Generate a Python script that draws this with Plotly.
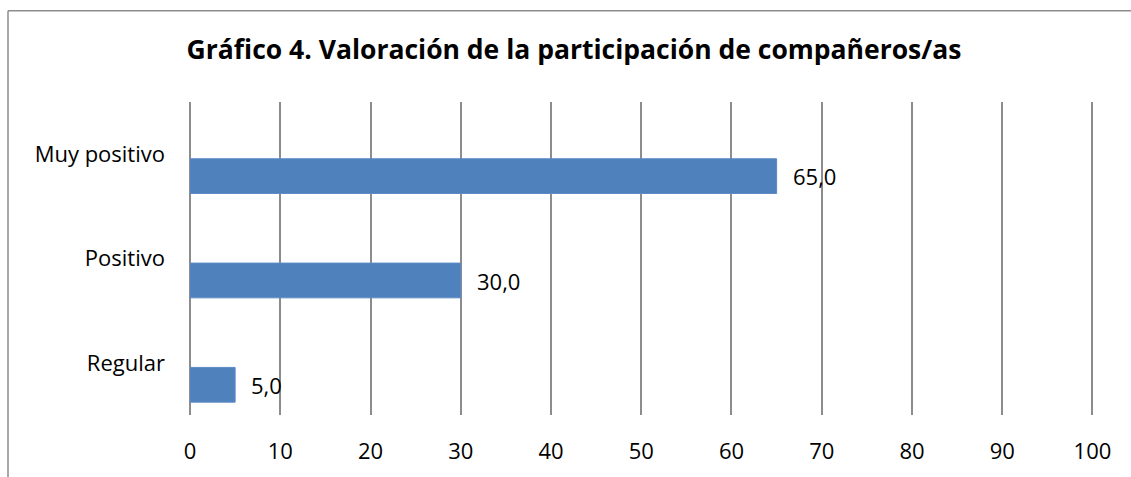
import plotly.graph_objects as go

categories = ["Regular", "Positivo", "Muy positivo"]
values = [5.0, 30.0, 65.0]
x_ticks = [0, 10, 20, 30, 40, 50, 60, 70, 80, 90, 100]
title = "Gráfico 4. Valoración de la participación de compañeros/as"

FONT = "Open Sans"
W, H = 1131, 477
L, R, T, B = 190, 34, 102, 59
pw, ph = W - L - R, H - T - B

fig = go.Figure()
fig.add_trace(go.Bar(
    y=categories, x=values, orientation="h",
    marker=dict(color="#4F81BD", line=dict(color="#5B8AC6", width=1)),
    width=0.333, offset=-0.377,
    hoverinfo="skip",
))

for c, v in zip(categories, values):
    fig.add_annotation(
        x=v, y=c, xref="x", yref="y",
        text=f"{v:.1f}".replace(".", ","),
        showarrow=False, xanchor="left", yanchor="middle",
        xshift=14, yshift=-22,
        font=dict(family=FONT, size=22, color="#000000"),
    )

def px_x(p):
    return (p - L) / pw

def px_y(p):
    return (H - B - p) / ph

fig.add_shape(type="line", xref="paper", yref="paper",
              x0=px_x(8), x1=px_x(8), y0=px_y(10), y1=px_y(490),
              line=dict(color="#8C8C8C", width=1.5))
fig.add_shape(type="line", xref="paper", yref="paper",
              x0=px_x(8), x1=px_x(1140), y0=px_y(10), y1=px_y(10),
              line=dict(color="#8C8C8C", width=1.5))

fig.update_layout(
    width=W, height=H,
    margin=dict(l=L, r=R, t=T, b=B),
    paper_bgcolor="white", plot_bgcolor="white",
    showlegend=False,
    title=dict(text=f"<b>{title}</b>", x=574 / W, xanchor="center",
               y=1 - 50 / H, yanchor="middle",
               font=dict(family=FONT, size=26.5, color="#000000")),
    font=dict(family=FONT, size=22, color="#000000"),
    xaxis=dict(range=[0, 100.5], tickvals=x_ticks, ticktext=[str(t) for t in x_ticks],
               showgrid=True, gridcolor="#8C8C8C", gridwidth=1.6,
               zeroline=True, zerolinecolor="#8C8C8C", zerolinewidth=1.6,
               showline=False, ticks="", ticklabelstandoff=21,
               tickfont=dict(family=FONT, size=22, color="#000000")),
    yaxis=dict(categoryorder="array", categoryarray=categories,
               range=[-0.5, 2.5], showgrid=False, zeroline=False,
               showline=False, ticks="", ticklabelstandoff=24,
               tickfont=dict(family=FONT, size=22, color="#000000")),
)

fig.write_html("out.html", config={"displayModeBar": False},
               post_script="document.body.style.margin='0';document.body.style.overflow='hidden';")
